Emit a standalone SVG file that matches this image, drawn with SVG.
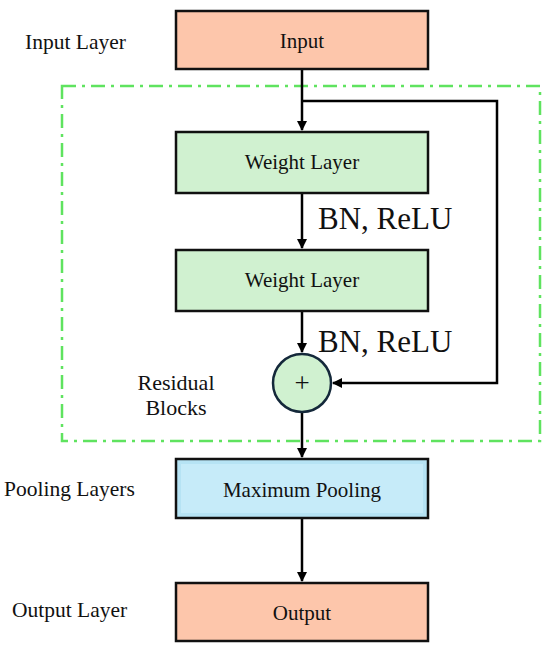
<svg xmlns="http://www.w3.org/2000/svg" width="550" height="649" viewBox="0 0 550 649">
<defs>
<marker id="ah" markerWidth="10" markerHeight="10" refX="9" refY="5" orient="auto" markerUnits="userSpaceOnUse">
<path d="M0,0 L10,5 L0,10 z" fill="#000"/>
</marker>
<style>
.box{stroke:#111;stroke-width:2.5}
.peach{fill:#fdc6ab}
.green{fill:#d0f1d0}
.blue{fill:#c4eaf8}
.t{font-family:"Liberation Serif","Times New Roman",serif;font-size:21px;fill:#111;text-anchor:middle}
.lbl{font-family:"Liberation Serif","Times New Roman",serif;font-size:21.5px;fill:#111}
.big{font-family:"Liberation Serif","Times New Roman",serif;font-size:31px;fill:#111}
.c{fill:none;stroke:#000;stroke-width:2.5}
</style>
</defs>
<rect width="550" height="649" fill="#fff"/>
<rect x="62" y="86" width="478" height="355" fill="none" stroke="#5fe35f" stroke-width="2.5" stroke-dasharray="14,6,3,6"/>
<g id="connectors">
<path class="c" d="M302,69 V130" marker-end="url(#ah)"/>
<path class="c" d="M302,101 H497 V383 H333" marker-end="url(#ah)"/>
<path class="c" d="M302,193 V248" marker-end="url(#ah)"/>
<path class="c" d="M302,311 V352" marker-end="url(#ah)"/>
<path class="c" d="M302,412 V457" marker-end="url(#ah)"/>
<path class="c" d="M302,518 V581" marker-end="url(#ah)"/>
</g>
<g id="input"><rect class="box peach" x="176" y="11" width="252" height="58"/><text class="t" x="302" y="48">Input</text></g>
<g id="weight1"><rect class="box green" x="176" y="132" width="252" height="61"/><text class="t" x="302" y="169">Weight Layer</text></g>
<g id="weight2"><rect class="box green" x="176" y="250" width="252" height="61"/><text class="t" x="302" y="287">Weight Layer</text></g>
<g id="add"><circle cx="302" cy="383" r="29" fill="#d0f1d0" stroke="#14283a" stroke-width="2.5"/><text class="t" x="302" y="392" style="font-size:27px">+</text></g>
<g id="pool"><rect class="box" x="176" y="459" width="252" height="59" fill="#b6e3f4"/><rect x="181" y="464" width="242" height="49" fill="#c6ebf9"/><text class="t" x="302" y="497">Maximum Pooling</text></g>
<g id="output"><rect class="box peach" x="176" y="583" width="252" height="58"/><text class="t" x="302" y="620">Output</text></g>
<g id="labels">
<text class="lbl" x="25" y="49">Input Layer</text>
<text class="big" x="318" y="229">BN, ReLU</text>
<text class="big" x="318" y="352">BN, ReLU</text>
<text class="t" x="176" y="390" style="font-size:22px">Residual</text>
<text class="t" x="176" y="415" style="font-size:22px">Blocks</text>
<text class="lbl" x="4" y="496">Pooling Layers</text>
<text class="lbl" x="12" y="617">Output Layer</text>
</g>
</svg>
